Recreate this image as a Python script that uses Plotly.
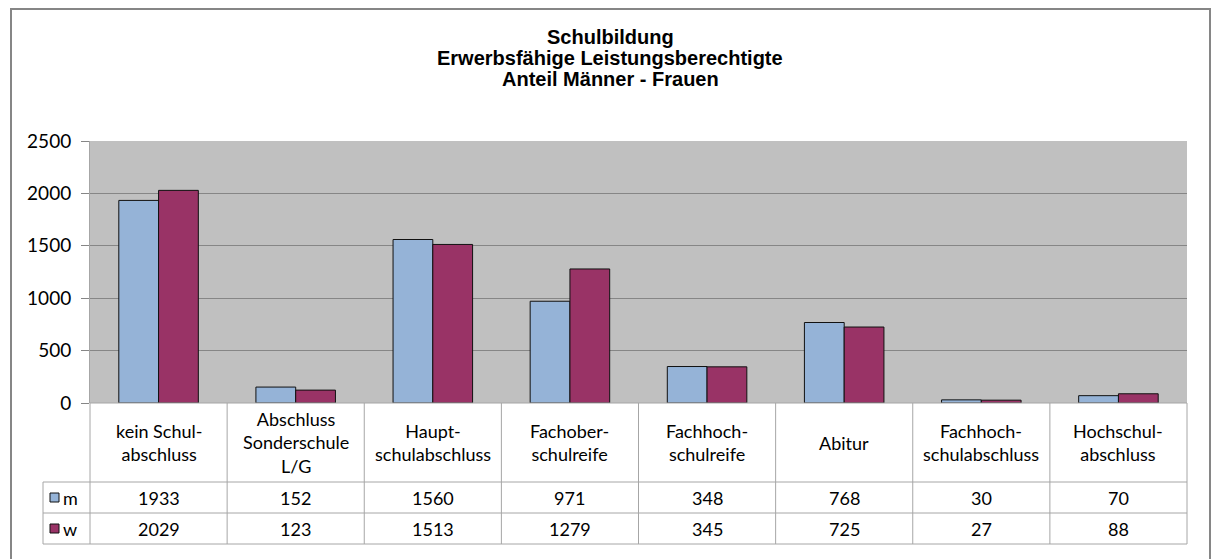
import plotly.graph_objects as go

categories = ["kein Schul-<br>abschluss", "Abschluss<br>Sonderschule<br>L/G", "Haupt-<br>schulabschluss",
              "Fachober-<br>schulreife", "Fachhoch-<br>schulreife", "Abitur",
              "Fachhoch-<br>schulabschluss", "Hochschul-<br>abschluss"]
series_names = ["m", "w"]
values_m = [1933, 152, 1560, 971, 348, 768, 30, 70]
values_w = [2029, 123, 1513, 1279, 345, 725, 27, 88]
y_ticks = [0, 500, 1000, 1500, 2000, 2500]
title_lines = ["Schulbildung", "Erwerbsfähige Leistungsberechtigte", "Anteil Männer - Frauen"]

colors = ["#95B3D7", "#993366"]
W, H = 1213, 559
L, R, T, B = 90, 1187, 141, 403
ph = B - T
pw = R - L
n = len(categories)

def py(ypix):
    return (B - ypix) / ph

def px(xpix):
    return (xpix - L) / pw

TXT = "Lato, Open Sans, sans-serif"
TS = 18

fig = go.Figure()
xs = list(range(n))
for name, vals, c in zip(series_names, [values_m, values_w], colors):
    fig.add_trace(go.Bar(x=xs, y=vals, name=name, marker=dict(color=c, line=dict(color="#111111", width=1))))

shapes = []
ann = []
gridc = "#A6A6A6"
row_y = [403, 482, 513, 544]
for i, yy in enumerate(row_y):
    x0 = px(43) if i >= 1 else 0
    shapes.append(dict(type="line", xref="paper", yref="paper", x0=x0, x1=1, y0=py(yy), y1=py(yy),
                       line=dict(color=gridc, width=1)))
for i in range(n + 1):
    shapes.append(dict(type="line", xref="paper", yref="paper", x0=i / n, x1=i / n, y0=py(403), y1=py(544),
                       line=dict(color=gridc, width=1)))
shapes.append(dict(type="line", xref="paper", yref="paper", x0=px(43), x1=px(43), y0=py(482), y1=py(544),
                   line=dict(color=gridc, width=1)))
shapes.append(dict(type="rect", xref="paper", yref="paper", x0=px(11), x1=px(1210), y0=py(9), y1=py(575),
                   line=dict(color="#868686", width=2)))

for i, c in enumerate(categories):
    ann.append(dict(x=i, xref="x", y=py(442.5), yref="paper", text=c, showarrow=False,
                    xanchor="center", yanchor="middle",
                    font=dict(family=TXT, size=TS, color="#000"), align="center"))
for r, (name, vals, c) in enumerate(zip(series_names, [values_m, values_w], colors)):
    yc = py([497.5, 528.5][r])
    for i, v in enumerate(vals):
        ann.append(dict(x=i, xref="x", y=yc, yref="paper", text=str(v), showarrow=False,
                        xanchor="center", yanchor="middle",
                        font=dict(family=TXT, size=TS, color="#000")))
    shapes.append(dict(type="rect", xref="paper", yref="paper", x0=px(50), x1=px(59),
                       y0=yc - 4.5 / ph, y1=yc + 4.5 / ph, fillcolor=c, line=dict(color="#111111", width=1)))
    ann.append(dict(x=px(61), xref="paper", y=yc, yref="paper", text=name, showarrow=False,
                    xanchor="left", yanchor="middle",
                    font=dict(family=TXT, size=TS, color="#000")))

for t, yp in zip(title_lines, [37, 58, 79]):
    ann.append(dict(x=px(610), xref="paper", y=py(yp), yref="paper", text="<b>%s</b>" % t, showarrow=False,
                    xanchor="center", yanchor="middle",
                    font=dict(family="Liberation Sans, Arial", size=20, color="#000")))

fig.update_layout(
    width=W, height=H,
    margin=dict(l=L, r=W - R, t=T, b=H - B),
    paper_bgcolor="white", plot_bgcolor="#C0C0C0",
    showlegend=False,
    barmode="group", bargap=0.42, bargroupgap=0,
    xaxis=dict(range=[-0.5, n - 0.5], showticklabels=False, showgrid=False, zeroline=False,
               tickvals=xs, ticks=""),
    yaxis=dict(range=[0, 2500], tickvals=y_ticks, showgrid=True, gridcolor="#868686", gridwidth=1,
               zeroline=False, ticks="outside", ticklen=8, tickcolor="#868686",
               showline=True, linecolor="#A6A6A6", linewidth=1, ticklabelstandoff=6,
               tickfont=dict(family=TXT, size=19, color="#000")),
    shapes=shapes, annotations=ann,
)
fig.write_html("out.html", config={"displayModeBar": False},
               post_script="document.body.style.margin='0';")
